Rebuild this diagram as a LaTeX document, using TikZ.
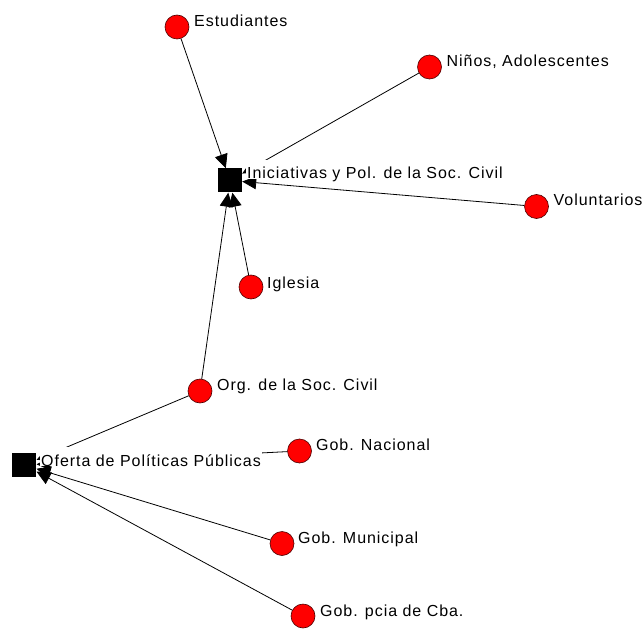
\documentclass[tikz,border=0pt]{standalone}
\usepackage{fontspec}
\setmainfont{Liberation Sans}[LetterSpace=6]
\usetikzlibrary{arrows.meta}
\tikzset{
 actor/.style={circle, fill=red, draw=black!70!red, line width=0.6pt, minimum size=24pt, inner sep=0pt},
 sq/.style={rectangle, fill=black, minimum size=24pt, inner sep=0pt},
 lbl/.style={anchor=base west, fill=white, inner xsep=1pt, inner ysep=0pt, text height=19pt, text depth=0pt, font=\fontsize{16}{19}\selectfont},
 tie/.style={draw=black, line width=0.8pt, -{Triangle[length=14pt,width=13pt]}},
}
\begin{document}
\begin{tikzpicture}[x=1pt,y=-1pt]
\useasboundingbox (0,0) rectangle (644,628);
% nodes
\node[sq] (ini) at (230,180.5) {};
\node[sq] (ofe) at (24.3,465) {};
\node[actor] (est) at (177,27) {};
\node[actor] (nin) at (429.5,67) {};
\node[actor] (vol) at (536.5,206.5) {};
\node[actor] (igl) at (251,287) {};
\node[actor] (org) at (200,391) {};
\node[actor] (nac) at (299.5,451) {};
\node[actor] (mun) at (282,543.5) {};
\node[actor] (pci) at (303,616) {};
% connectors
\draw[tie] (est) -- (ini);
\draw[tie] (nin) -- (ini);
\draw[tie] (vol) -- (ini);
\draw[tie] (igl) -- (ini);
\draw[tie] (org) -- (ini);
\draw[tie] (org) -- (ofe);
\draw[tie] (nac) -- (ofe);
\draw[tie] (mun) -- (ofe);
\draw[tie] (pci) -- (ofe);
% labels
\node[lbl] (lest) at (193,27) {Estudiantes};
\node[lbl] (lnin) at (445.5,67) {Niños, Adolescentes};
\node[lbl] (lini) at (246,179) {Iniciativas y Pol. de la Soc. Civil};
\node[lbl] (lvol) at (552.5,206) {Voluntarios};
\node[lbl] (ligl) at (266,288) {Iglesia};
\node[lbl] (lorg) at (216,390) {Org. de la Soc. Civil};
\node[lbl] (lofe) at (40,466) {Oferta de Políticas Públicas};
\node[lbl] (lnac) at (315,450) {Gob. Nacional};
\node[lbl] (lmun) at (297,543) {Gob. Municipal};
\node[lbl] (lpci) at (319,616) {Gob. pcia de Cba.};
\end{tikzpicture}
\end{document}
